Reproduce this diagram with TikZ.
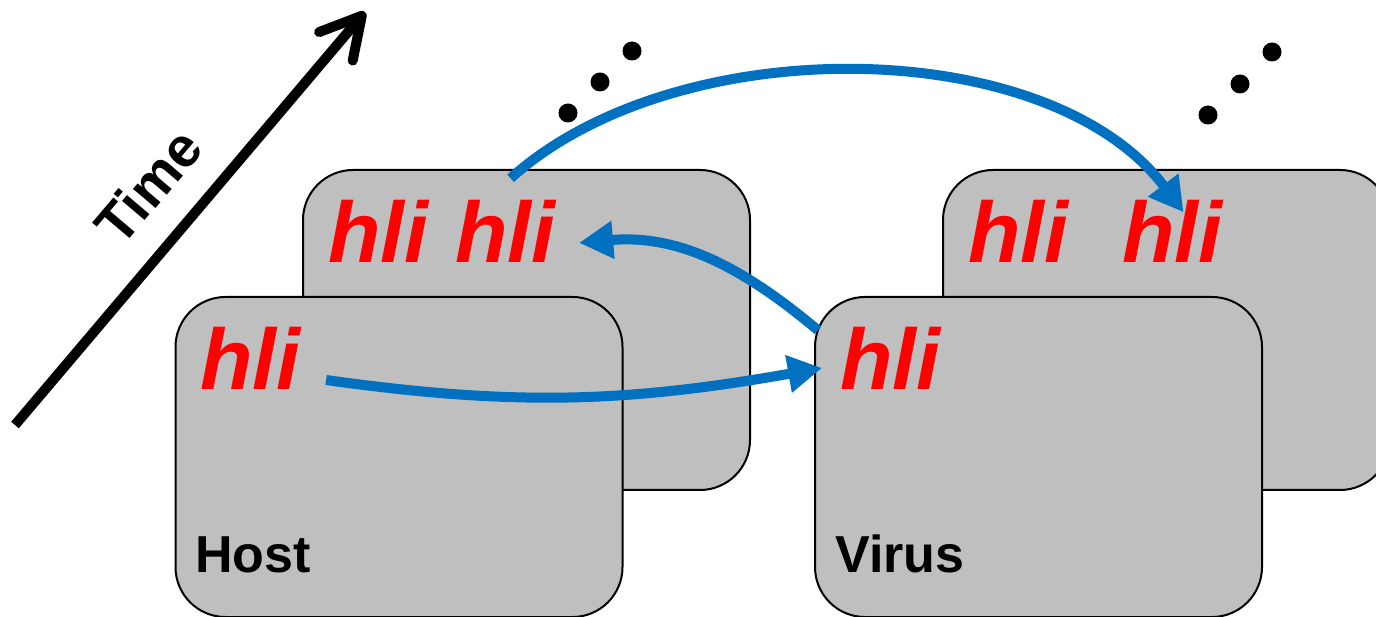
\documentclass[tikz,border=0pt]{standalone}
\usepackage{fontspec}
\setmainfont{Liberation Sans}
\usetikzlibrary{arrows.meta}
\definecolor{flowblue}{RGB}{0,112,192}
\definecolor{boxgray}{RGB}{191,191,191}

\begin{document}
\begin{tikzpicture}[x=0.5pt, y=0.5pt]
        % Define styles
        \tikzset{
            box/.style={draw, line width=1pt, fill=boxgray, rounded corners=25pt, minimum width=223.5pt, minimum height=160pt},
            hli/.style={red, font=\fontsize{43}{50}\selectfont\bfseries\itshape, inner sep=0pt, anchor=base west},
            label/.style={font=\fontsize{26}{30}\selectfont\bfseries, inner sep=0pt, anchor=base west},
            flow/.style={-{Triangle[length=17pt, width=18pt]}, flowblue, line width=5pt},
            timeline/.style={-{Straight Barb[length=20pt, width=22pt, round]}, line width=5pt}
        }
        \clip (0,0) rectangle (1376,616);
        % Host and virus at two time steps (back = later)
        \node[box] (hostback) at (526.5,286) {};
        \node[box] (hostfront) at (399,159) {};
        \node[box] (virback) at (1166.5,286) {};
        \node[box] (virfront) at (1038.5,159) {};
        \node[label] (hostlbl) at (195,44) {Host};
        \node[label] (virlbl) at (835,44) {Virus};
        % The hli elements
        \node[hli] (hostA) at (200,226) {hli};
        \node[hli] (hostB1) at (328,353) {hli};
        \node[hli] (hostB2) at (455,353) {hli};
        \node[hli] (virA) at (840,226) {hli};
        \node[hli] (virB1) at (968,353) {hli};
        \node[hli] (virB2) at (1122,353) {hli};
        % Time axis
        \coordinate (t0) at (15,191);
        \coordinate (t1) at (365,604);
        \draw[timeline] (t0) -- node[pos=0.495, sloped, above=13.5pt, inner sep=0pt, font=\fontsize{28}{32}\selectfont\bfseries] (time) {Time} (t1);
        % Dots: more time steps
        \foreach \x/\y in {568/503, 600/534, 632/565, 1208/501, 1240/532, 1272/564}
            \fill (\x,\y) circle (4.75pt);
        % Transfers between host and virus
        \draw[flow] ([shift={(25,10)}]hostA.base east) to[out=-8, in=190] ([shift={(-18,22)}]virA.base west);
        \draw[flow] ([shift={(-22,-3)}]virA.north west) to[out=140, in=5] ([shift={(23,-11)}]hostB2.east);
        \draw[flow] ([shift={(5,22)}]hostB2.north) to[out=42, in=127, looseness=0.85] ([shift={(11,-12)}]virB2.north);
    \end{tikzpicture}
\end{document}
